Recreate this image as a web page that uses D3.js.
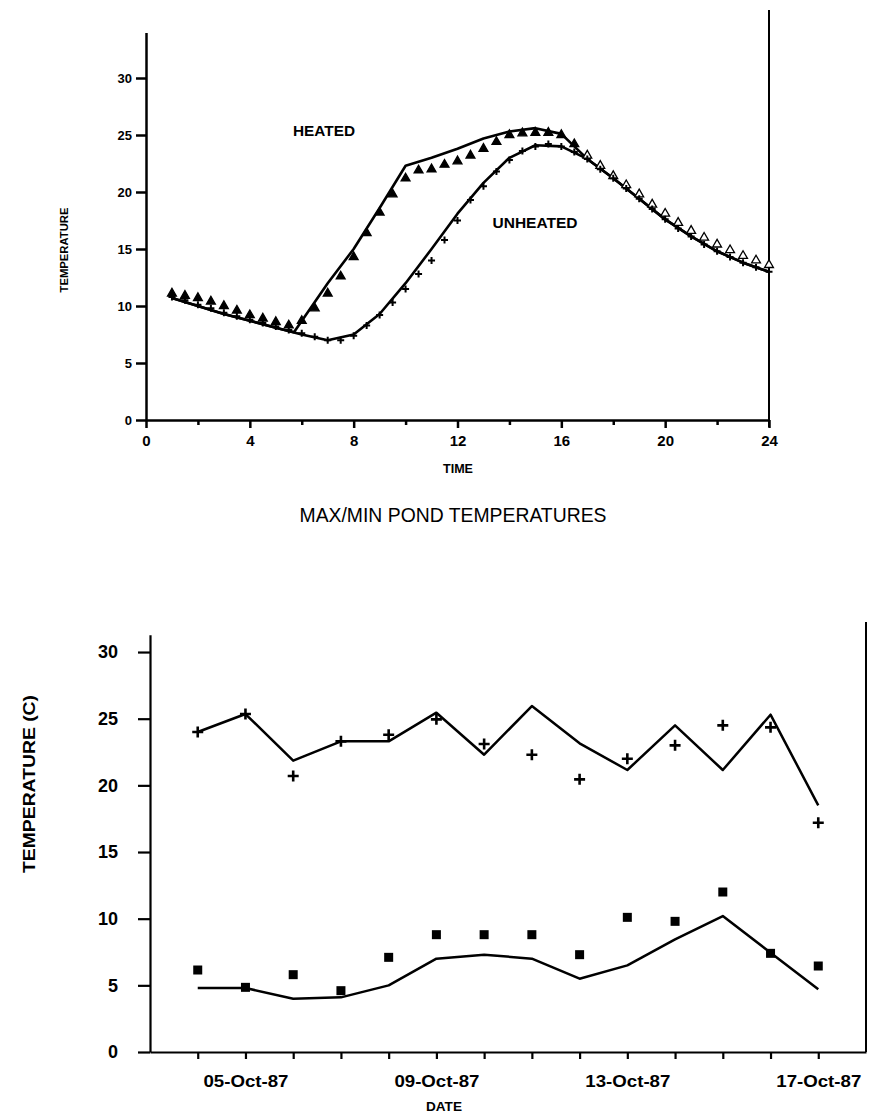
<!DOCTYPE html>
<html><head><meta charset="utf-8">
<script src="https://cdn.jsdelivr.net/npm/d3@7"></script>
<style>body{margin:0;background:#fff}svg{display:block}</style>
</head><body>
<svg id="c" width="877" height="1119"></svg>
<script>
// ---------- TOP CHART DATA ----------
const lineHoursHeated = [1,2,3,4,5,5.7,7,8,9,10,11,12,13,14,15,16,17,18,19,20,21,22,23,24];
const heatedLine = [10.7,10.0,9.3,8.7,8.1,7.7,12.0,15.0,18.6,22.3,23.0,23.8,24.7,25.3,25.6,25.1,22.9,21.2,19.4,17.6,16.1,14.8,13.8,13.0];
const lineHoursUnheated = [1,2,3,4,5,6,7,8,9,10,11,12,13,14,15,16,17,18,19,20,21,22,23,24];
const unheatedLine = [10.7,10.0,9.3,8.7,8.1,7.5,7.0,7.5,9.3,12.0,15.0,18.1,20.8,23.0,24.1,24.0,22.9,21.2,19.4,17.6,16.1,14.8,13.8,13.0];
const obsHours = [1,1.5,2,2.5,3,3.5,4,4.5,5,5.5,6,6.5,7,7.5,8,8.5,9,9.5,10,10.5,11,11.5,12,12.5,13,13.5,14,14.5,15,15.5,16,16.5,17,17.5,18,18.5,19,19.5,20,20.5,21,21.5,22,22.5,23,23.5,24];
const heatedObs = [11.1,10.9,10.7,10.4,10.0,9.6,9.2,8.9,8.6,8.3,8.7,9.8,11.1,12.6,14.3,16.4,18.2,19.8,21.2,21.9,22.0,22.4,22.7,23.2,23.8,24.4,25.0,25.15,25.2,25.2,25.0,24.2,23.2,22.3,21.4,20.6,19.8,18.9,18.1,17.3,16.6,16.0,15.4,14.9,14.4,14.0,13.6];
const unheatedObs = [10.8,10.5,10.1,9.8,9.4,9.1,8.8,8.5,8.2,7.9,7.6,7.3,7.0,7.0,7.4,8.3,9.2,10.3,11.5,12.8,14.0,15.8,17.5,19.3,20.5,21.8,22.8,23.6,24.0,24.2,24.0,23.5,22.9,22.0,21.2,20.3,19.4,18.5,17.6,16.8,16.1,15.4,14.8,14.3,13.8,13.4,13.0];
const topXTicks = [0,4,8,12,16,20,24];
const topXMinor = [2,6,10,14,18,22];
const topYTicks = [0,5,10,15,20,25,30];

// ---------- BOTTOM CHART DATA ----------
const dates = ["1987-10-04","1987-10-05","1987-10-06","1987-10-07","1987-10-08","1987-10-09","1987-10-10","1987-10-11","1987-10-12","1987-10-13","1987-10-14","1987-10-15","1987-10-16","1987-10-17"];
const maxModel = [24.0,25.35,21.85,23.3,23.3,25.45,22.3,25.95,23.15,21.15,24.5,21.15,25.3,18.5];
const maxObs   = [24.0,25.35,20.7,23.3,23.8,24.95,23.1,22.3,20.45,22.0,23.0,24.5,24.35,17.2];
const minModel = [4.8,4.8,4.0,4.1,5.0,7.0,7.3,7.0,5.5,6.5,8.45,10.2,7.45,4.7];
const minObs   = [6.15,4.85,5.8,4.6,7.1,8.8,8.8,8.8,7.3,10.1,9.8,12.0,7.4,6.45];
const bottomYTicks = [0,5,10,15,20,25,30];
const bottomXLabels = ["1987-10-05","1987-10-09","1987-10-13","1987-10-17"];

const svg = d3.select("#c");
const FONT = "'Liberation Sans', Arial, sans-serif";
const parse = d3.timeParse("%Y-%m-%d");
const fmt = d3.timeFormat("%d-%b-%y");

// ================= TOP CHART =================
const xT = d3.scaleLinear().domain([0,24]).range([146,769]);
const yT = d3.scaleLinear().domain([0,34]).range([420,32.4]);
const gT = svg.append("g");

// axes
const yAxT = gT.append("g").attr("transform",`translate(${xT(0)},0)`)
  .call(d3.axisLeft(yT).tickValues(topYTicks).tickSize(10).tickSizeOuter(0).tickPadding(4));
const xAxT = gT.append("g").attr("transform",`translate(0,${yT(0)})`)
  .call(d3.axisBottom(xT).tickValues(topXTicks).tickSize(8).tickSizeOuter(0).tickPadding(7));
const xMinT = gT.append("g").attr("transform",`translate(0,${yT(0)})`)
  .call(d3.axisBottom(xT).tickValues(topXMinor).tickSize(5).tickSizeOuter(0).tickFormat(""));
xMinT.select(".domain").remove();
[yAxT,xAxT,xMinT].forEach(a=>{
  a.selectAll("path,line").attr("stroke","#000").attr("stroke-width",2.5);
  a.selectAll("text").attr("fill","#000").style("font-family",FONT).style("font-weight","bold");
});
yAxT.selectAll("text").style("font-size","13px");
xAxT.selectAll("text").style("font-size","15px");
// right border
gT.append("line").attr("x1",xT(24)).attr("x2",xT(24)).attr("y1",10).attr("y2",yT(0)+7)
  .attr("stroke","#000").attr("stroke-width",2);

// lines
const lineGen = d3.line().x(d=>xT(d[0])).y(d=>yT(d[1]));
gT.append("path").datum(d3.zip(lineHoursUnheated,unheatedLine)).attr("d",lineGen)
  .attr("fill","none").attr("stroke","#000").attr("stroke-width",2.6).attr("stroke-linejoin","round");
gT.append("path").datum(d3.zip(lineHoursHeated,heatedLine)).attr("d",lineGen)
  .attr("fill","none").attr("stroke","#000").attr("stroke-width",2.6).attr("stroke-linejoin","round");

// markers: heated triangles
const tri = d3.symbol().type(d3.symbolTriangle).size(34);
gT.append("g").selectAll("path").data(d3.zip(obsHours,heatedObs)).join("path")
  .attr("d",tri).attr("transform",d=>`translate(${xT(d[0])},${yT(d[1])})`)
  .attr("fill",d=>d[0]>16.8?"#fff":"#000").attr("stroke","#000").attr("stroke-width",1.3);
// unheated plus
gT.append("g").selectAll("path").data(d3.zip(obsHours,unheatedObs)).join("path")
  .attr("d","M-3.5,0H3.5M0,-3.5V3.5").attr("transform",d=>`translate(${xT(d[0])},${yT(d[1])})`)
  .attr("stroke","#000").attr("stroke-width",2).attr("fill","none");

// labels
gT.append("text").attr("x",324).attr("y",136).attr("text-anchor","middle")
  .attr("textLength",62).attr("lengthAdjust","spacingAndGlyphs")
  .style("font-family",FONT).style("font-weight","bold").style("font-size","14px").text("HEATED");
gT.append("text").attr("x",535).attr("y",228).attr("text-anchor","middle")
  .attr("textLength",85).attr("lengthAdjust","spacingAndGlyphs")
  .style("font-family",FONT).style("font-weight","bold").style("font-size","14px").text("UNHEATED");
gT.append("text").attr("x",458).attr("y",473).attr("text-anchor","middle")
  .attr("textLength",30).attr("lengthAdjust","spacingAndGlyphs")
  .style("font-family",FONT).style("font-weight","bold").style("font-size","13px").text("TIME");
gT.append("text").attr("transform","translate(68,250) rotate(-90)").attr("text-anchor","middle")
  .attr("textLength",85).attr("lengthAdjust","spacingAndGlyphs")
  .style("font-family",FONT).style("font-weight","bold").style("font-size","10px").text("TEMPERATURE");

// title
svg.append("text").attr("x",453).attr("y",522).attr("text-anchor","middle")
  .attr("textLength",307).attr("lengthAdjust","spacingAndGlyphs")
  .style("font-family",FONT).style("font-size","20px").text("MAX/MIN POND TEMPERATURES");

// ================= BOTTOM CHART =================
const xB = d3.scaleTime().domain([parse("1987-10-03"),parse("1987-10-18")]).range([150,866]);
const yB = d3.scaleLinear().domain([0,31.3]).range([1052,634.7]);
const gB = svg.append("g");
const yAxB = gB.append("g").attr("transform",`translate(${xB.range()[0]},0)`)
  .call(d3.axisLeft(yB).tickValues(bottomYTicks).tickSize(12).tickSizeOuter(0).tickPadding(20));
const xAxB = gB.append("g").attr("transform",`translate(0,${yB(0)})`)
  .call(d3.axisBottom(xB).tickValues(dates.map(parse)).tickSize(7).tickSizeOuter(0)
    .tickFormat(d=>bottomXLabels.includes(d3.timeFormat("%Y-%m-%d")(d))?fmt(d):"").tickPadding(17));
[yAxB,xAxB].forEach(a=>{
  a.selectAll("path,line").attr("stroke","#000").attr("stroke-width",2.2);
  a.selectAll("text").attr("fill","#000").style("font-family",FONT).style("font-weight","bold");
});
yAxB.selectAll("text").style("font-size","18px");
xAxB.selectAll("text").style("font-size","16px").each(function(){
  if(this.textContent) d3.select(this).attr("textLength",85).attr("lengthAdjust","spacingAndGlyphs");
});
gB.append("line").attr("x1",xB.range()[1]).attr("x2",xB.range()[1]).attr("y1",622).attr("y2",yB(0))
  .attr("stroke","#000").attr("stroke-width",2);

const lineB = d3.line().x(d=>xB(parse(d[0]))).y(d=>yB(d[1]));
gB.append("path").datum(d3.zip(dates,maxModel)).attr("d",lineB)
  .attr("fill","none").attr("stroke","#000").attr("stroke-width",2.5).attr("stroke-linejoin","round");
gB.append("path").datum(d3.zip(dates,minModel)).attr("d",lineB)
  .attr("fill","none").attr("stroke","#000").attr("stroke-width",2.5).attr("stroke-linejoin","round");
gB.append("g").selectAll("path").data(d3.zip(dates,maxObs)).join("path")
  .attr("d","M-5.5,0H5.5M0,-5.5V5.5").attr("transform",d=>`translate(${xB(parse(d[0]))},${yB(d[1])})`)
  .attr("stroke","#000").attr("stroke-width",2.6).attr("fill","none");
gB.append("g").selectAll("rect").data(d3.zip(dates,minObs)).join("rect")
  .attr("x",d=>xB(parse(d[0]))-4.5).attr("y",d=>yB(d[1])-4.5).attr("width",9).attr("height",9)
  .attr("fill","#000");

gB.append("text").attr("transform","translate(35,784) rotate(-90)").attr("text-anchor","middle")
  .attr("textLength",178).attr("lengthAdjust","spacingAndGlyphs")
  .style("font-family",FONT).style("font-weight","bold").style("font-size","16px").text("TEMPERATURE (C)");
gB.append("text").attr("x",444).attr("y",1111).attr("text-anchor","middle")
  .attr("textLength",36).attr("lengthAdjust","spacingAndGlyphs")
  .style("font-family",FONT).style("font-weight","bold").style("font-size","13px").text("DATE");
</script>
</body></html>
